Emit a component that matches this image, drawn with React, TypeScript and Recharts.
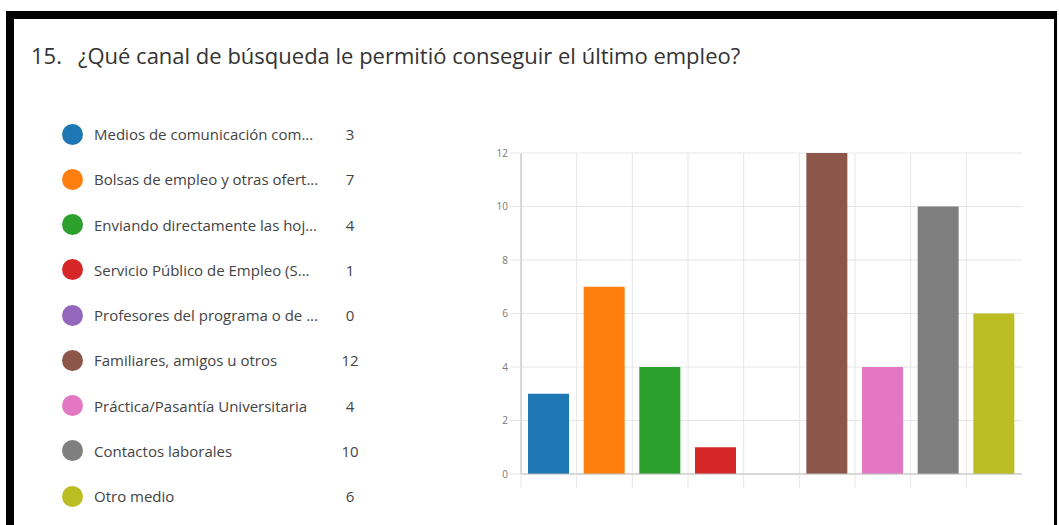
import { BarChart, Bar, XAxis, YAxis, CartesianGrid, Cell } from "recharts";

const categories = [
  "Medios de comunicación com...",
  "Bolsas de empleo y otras ofert...",
  "Enviando directamente las hoj...",
  "Servicio Público de Empleo (S...",
  "Profesores del programa o de ...",
  "Familiares, amigos u otros",
  "Práctica/Pasantía Universitaria",
  "Contactos laborales",
  "Otro medio",
];

const counts = [3, 7, 4, 1, 0, 12, 4, 10, 6];

const colors = [
  "#1f77b4",
  "#ff7f0e",
  "#2ca02c",
  "#d62728",
  "#9467bd",
  "#8c564b",
  "#e377c2",
  "#7f7f7f",
  "#bcbd22",
];

const yTicks = [0, 2, 4, 6, 8, 10, 12];

const TITLE_NUM = "15.";
const TITLE = "¿Qué canal de búsqueda le permitió conseguir el último empleo?";

const FONT = "'Open Sans', 'Noto Sans', sans-serif";
const GRID = "#e6e6e6";

// tick mark at the left edge of each category band, no label
function BoundaryTick(props: any) {
  const { x, y, payload } = props;
  const bx = x - (payload.offset || 0);
  return <line x1={bx} x2={bx} y1={y} y2={y + 14} stroke={GRID} />;
}

export default function App() {
  const data = categories.map((name, i) => ({ name, value: counts[i] }));

  return (
    <div
      style={{
        position: "absolute",
        left: 0,
        top: 0,
        width: 1059,
        height: 525,
        background: "#fff",
        overflow: "hidden",
        fontFamily: FONT,
      }}
    >
      {/* frame */}
      <div
        style={{
          position: "absolute",
          left: 6,
          top: 11,
          width: 1040,
          height: 530,
          borderTop: "8px solid #000",
          borderLeft: "8px solid #000",
          borderRight: "3px solid #000",
        }}
      />

      {/* title */}
      <div
        style={{
          position: "absolute",
          left: 31,
          top: 44,
          fontSize: 22,
          lineHeight: "22px",
          color: "#333",
          whiteSpace: "nowrap",
        }}
      >
        <span>{TITLE_NUM}</span>
        <span style={{ marginLeft: 16 }}>{TITLE}</span>
      </div>

      {/* legend */}
      <div style={{ position: "absolute", left: 62, top: 111.5 }}>
        {categories.map((c, i) => (
          <div
            key={c}
            style={{
              height: 45.25,
              display: "flex",
              alignItems: "center",
              fontSize: 15,
              color: "#444",
              whiteSpace: "nowrap",
            }}
          >
            <span
              style={{
                width: 21,
                height: 21,
                borderRadius: "50%",
                background: colors[i],
                display: "inline-block",
              }}
            />
            <span style={{ marginLeft: 11, width: 241 }}>{c}</span>
            <span style={{ width: 30, textAlign: "center" }}>{counts[i]}</span>
          </div>
        ))}
      </div>

      {/* chart */}
      <div style={{ position: "absolute", left: 440, top: 130 }}>
        <BarChart
          width={600}
          height={380}
          data={data}
          margin={{ top: 23, right: 18, left: 51, bottom: 16 }}
        >
          <CartesianGrid
            stroke={GRID}
            strokeWidth={1}
            verticalCoordinatesGenerator={({ offset }: any) =>
              categories.map(
                (_, i) => offset.left + (i * offset.width) / categories.length
              )
            }
          />
          <XAxis
            dataKey="name"
            interval={0}
            tick={<BoundaryTick />}
            tickLine={false}
            tickSize={0}
            tickMargin={0}
            height={20}
            axisLine={{ stroke: "#bdbdbd" }}
          />
          <YAxis
            domain={[0, 12]}
            ticks={yTicks}
            width={30}
            tickSize={11}
            tickMargin={2}
            tick={{ fontSize: 10, fill: "#777", fontFamily: FONT }}
            tickLine={{ stroke: GRID }}
            axisLine={{ stroke: "#bdbdbd" }}
          />
          <Bar dataKey="value" barSize={41} isAnimationActive={false}>
            {data.map((d, i) => (
              <Cell key={d.name} fill={colors[i]} />
            ))}
          </Bar>
        </BarChart>
      </div>
    </div>
  );
}
